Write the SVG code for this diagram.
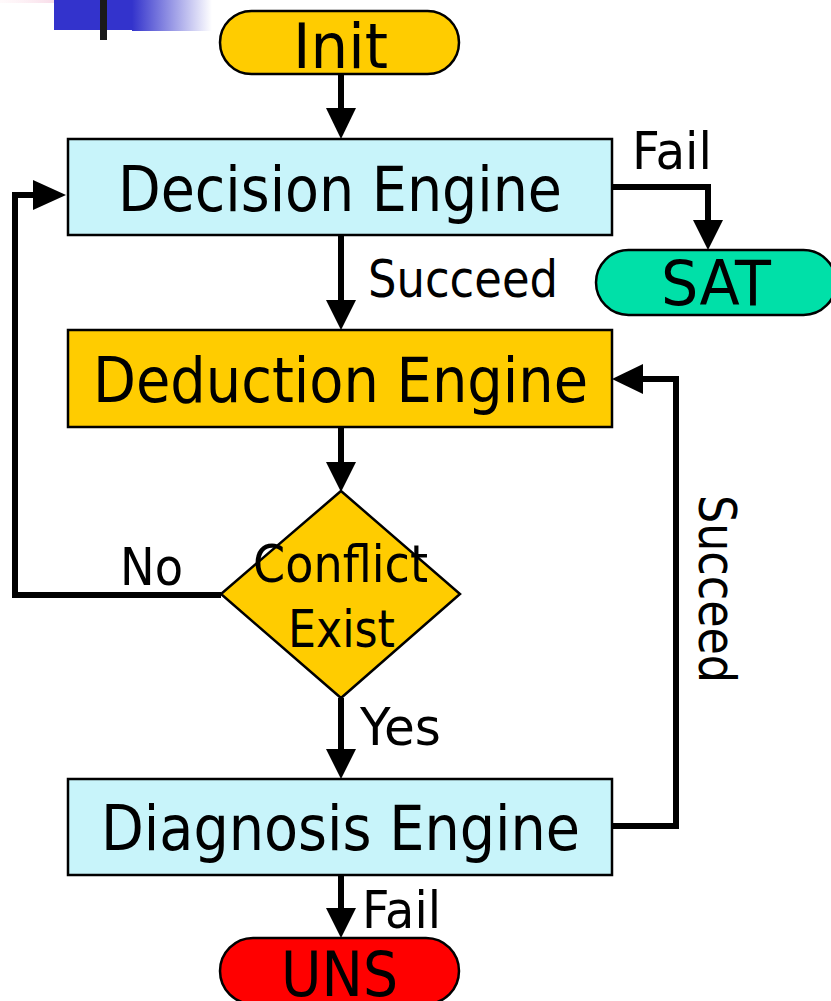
<svg xmlns="http://www.w3.org/2000/svg" width="831" height="1001" viewBox="0 0 831 1001">
<defs>
<linearGradient id="blueFade" x1="0" y1="0" x2="1" y2="0">
<stop offset="0" stop-color="#3333CC"/>
<stop offset="1" stop-color="#3333CC" stop-opacity="0"/>
</linearGradient>
<linearGradient id="pinkFade" x1="0" y1="0" x2="1" y2="0">
<stop offset="0" stop-color="#FFEEF2" stop-opacity="0.3"/>
<stop offset="1" stop-color="#F0C0D8"/>
</linearGradient>
<style>
.t{font-family:"DejaVu Sans","Liberation Sans",sans-serif;fill:#000}
.big{font-size:63px}
.lab{font-size:51px}
.box{stroke:#000;stroke-width:2.5}
.cyan{fill:#C8F4FA}
.gold{fill:#FFCC00}
.line{fill:none;stroke:#000;stroke-width:6}
.head{fill:#000}
</style>
</defs>
<rect width="831" height="1001" fill="#fff"/>
<g id="decoration">
<rect x="0" y="0" width="85" height="3" fill="url(#pinkFade)"/>
<rect x="54" y="0" width="78" height="30" fill="#3333CC"/>
<rect x="132" y="0" width="80" height="31" fill="url(#blueFade)"/>
<rect x="100" y="0" width="7" height="40" fill="#1a1a1a"/>
</g>
<g id="connectors">
<line class="line" x1="341" y1="74" x2="341" y2="110"/>
<polygon class="head" points="326,108 356,108 341,139"/>
<line class="line" x1="341" y1="235" x2="341" y2="302"/>
<polygon class="head" points="326,300 356,300 341,330"/>
<line class="line" x1="341" y1="427" x2="341" y2="464"/>
<polygon class="head" points="326,462 356,462 341,492"/>
<line class="line" x1="341" y1="698" x2="341" y2="751"/>
<polygon class="head" points="326,749 356,749 341,779"/>
<line class="line" x1="341" y1="875" x2="341" y2="910"/>
<polygon class="head" points="326,908 356,908 341,938"/>
<polyline class="line" points="612,187 708,187 708,222"/>
<polygon class="head" points="693,220 723,220 708,250"/>
<polyline class="line" points="221,595 15,595 15,195 36,195"/>
<polygon class="head" points="33,180 33,210 66,195"/>
<polyline class="line" points="612,826 676,826 676,379 641,379"/>
<polygon class="head" points="643,364 643,394 612,379"/>
<text class="t lab" x="632" y="169" textLength="80" lengthAdjust="spacingAndGlyphs">Fail</text>
<text class="t lab" x="368" y="297" textLength="190" lengthAdjust="spacingAndGlyphs">Succeed</text>
<text class="t lab" x="120" y="585" textLength="63" lengthAdjust="spacingAndGlyphs">No</text>
<text class="t lab" x="360" y="745" textLength="81" lengthAdjust="spacingAndGlyphs">Yes</text>
<text class="t lab" x="362" y="928" textLength="79" lengthAdjust="spacingAndGlyphs">Fail</text>
<text class="t lab" transform="translate(699,589) rotate(90)" text-anchor="middle" textLength="188" lengthAdjust="spacingAndGlyphs">Succeed</text>
</g>
<g id="init">
<rect class="box gold" x="220" y="11" width="239" height="63" rx="31.5" stroke-width="2"/>
<text class="t big" x="293" y="68" textLength="95" lengthAdjust="spacingAndGlyphs">Init</text>
</g>
<g id="decision">
<rect class="box cyan" x="68" y="139" width="544" height="96"/>
<text class="t big" x="118" y="211" textLength="444" lengthAdjust="spacingAndGlyphs">Decision Engine</text>
</g>
<g id="sat">
<rect class="box" x="596" y="250" width="240" height="65" rx="32.5" fill="#00E0A8" stroke-width="2"/>
<text class="t big" x="661" y="305" textLength="110" lengthAdjust="spacingAndGlyphs">SAT</text>
</g>
<g id="deduction">
<rect class="box gold" x="68" y="330" width="544" height="97"/>
<text class="t big" x="93" y="402" textLength="495" lengthAdjust="spacingAndGlyphs">Deduction Engine</text>
</g>
<g id="conflict">
<polygon class="box gold" points="341,491 460,594 341,698 221,594" stroke-width="2"/>
<text class="t lab" x="253" y="582" textLength="175" lengthAdjust="spacingAndGlyphs">Conflict</text>
<text class="t lab" x="288" y="647" textLength="107" lengthAdjust="spacingAndGlyphs">Exist</text>
</g>
<g id="diagnosis">
<rect class="box cyan" x="68" y="779" width="544" height="96"/>
<text class="t big" x="101" y="850" textLength="479" lengthAdjust="spacingAndGlyphs">Diagnosis Engine</text>
</g>
<g id="uns">
<rect class="box" x="220" y="938" width="239" height="66" rx="33" fill="#FF0000" stroke-width="2"/>
<text class="t big" x="281" y="996" textLength="117" lengthAdjust="spacingAndGlyphs">UNS</text>
</g>
</svg>
